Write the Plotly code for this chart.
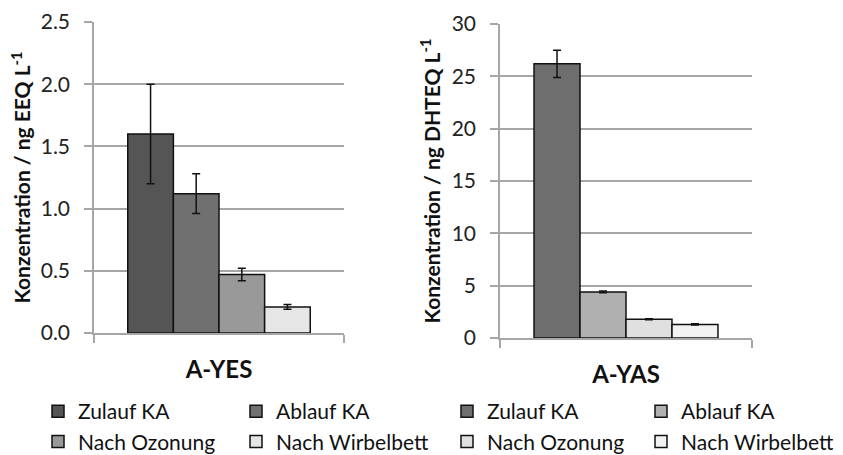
import plotly.graph_objects as go

# ---- data ----
series = ["Zulauf KA", "Ablauf KA", "Nach Ozonung", "Nach Wirbelbett"]
yes_cat = ["A-YES"]
yas_cat = ["A-YAS"]
yes_vals = [1.60, 1.12, 0.47, 0.21]
yes_err = [0.40, 0.16, 0.05, 0.02]
yas_vals = [26.2, 4.4, 1.8, 1.3]
yas_err = [1.3, 0.08, 0.05, 0.05]
yes_colors = ["#555555", "#707070", "#999999", "#e6e6e6"]
yas_colors = ["#6e6e6e", "#b0b0b0", "#e0e0e0", "#f2f2f2"]
yes_legends = ["legend", "legend2", "legend", "legend2"]
yas_legends = ["legend3", "legend4", "legend3", "legend4"]
yes_ticks = [0.0, 0.5, 1.0, 1.5, 2.0, 2.5]
yas_ticks = [0, 5, 10, 15, 20, 25, 30]

W, H = 843, 455
FONT = "Lato"
GRID = "#a6a6a6"

fig = go.Figure()
for i, name in enumerate(series):
    fig.add_trace(go.Bar(
        x=yes_cat, y=[yes_vals[i]], name=name,
        marker=dict(color=yes_colors[i], line=dict(color="#111111", width=1.5)),
        error_y=dict(type="data", array=[yes_err[i]], color="#111111", thickness=1.5, width=4),
        xaxis="x", yaxis="y", legend=yes_legends[i],
    ))
for i, name in enumerate(series):
    fig.add_trace(go.Bar(
        x=yas_cat, y=[yas_vals[i]], name=name,
        marker=dict(color=yas_colors[i], line=dict(color="#111111", width=1.5)),
        error_y=dict(type="data", array=[yas_err[i]], color="#111111", thickness=1.5, width=4),
        xaxis="x2", yaxis="y2", legend=yas_legends[i],
    ))

def px_x(a, b):
    return [a / W, b / W]

def px_y(top, bottom):
    return [1 - bottom / H, 1 - top / H]

xcommon = dict(type="category", range=[-0.5, 0.5], showgrid=False, showline=True,
               linecolor=GRID, linewidth=1.5, ticks="outside", tickson="boundaries",
               ticklen=8, tickcolor=GRID, tickwidth=1.5, automargin=False,
               tickfont=dict(family=FONT, size=24, color="#111111", weight="bold"),
               ticklabelstandoff=14)
ycommon = dict(showgrid=True, gridcolor=GRID, gridwidth=1.5, showline=True,
               linecolor=GRID, linewidth=1.5, ticks="outside", ticklen=8,
               tickcolor=GRID, tickwidth=1.5, zeroline=False, automargin=False,
               ticklabelstandoff=10,
               tickfont=dict(family=FONT, size=21, color="#222222"))
title_font = dict(family=FONT, size=21, weight="bold", color="#111111")

fig.update_layout(
    width=W, height=H,
    margin=dict(l=0, r=0, t=0, b=0, autoexpand=False),
    paper_bgcolor="white", plot_bgcolor="white",
    barmode="group", bargap=0.27, bargroupgap=0,
    font=dict(family=FONT, color="#111111"),
    xaxis=dict(domain=px_x(94, 344), anchor="y", **xcommon),
    yaxis=dict(domain=px_y(22, 333), anchor="x", range=[0, 2.5], tickvals=yes_ticks,
               tickformat=".1f",
               title=dict(text="Konzentration / ng EEQ L<sup>-1</sup>",
                          font=title_font, standoff=4),
               **ycommon),
    xaxis2=dict(domain=px_x(500, 752), anchor="y2", **xcommon),
    yaxis2=dict(domain=px_y(24, 338), anchor="x2", range=[0, 30], tickvals=yas_ticks,
                title=dict(text="Konzentration / ng DHTEQ L<sup>-1</sup>",
                           font=title_font, standoff=5),
                **ycommon),
    showlegend=True,
)

leg_common = dict(orientation="v", xanchor="left", yanchor="top", bgcolor="rgba(0,0,0,0)",
                  font=dict(family=FONT, size=21, color="#111111"), itemwidth=30,
                  tracegroupgap=0, itemclick=False, itemdoubleclick=False)
leg_y = 1 - 391 / H
fig.update_layout(
    legend=dict(x=38 / W, y=leg_y, **leg_common),
    legend2=dict(x=236 / W, y=leg_y, **leg_common),
    legend3=dict(x=447 / W, y=leg_y, **leg_common),
    legend4=dict(x=641 / W, y=leg_y, **leg_common),
)

fig.write_html("out.html")
